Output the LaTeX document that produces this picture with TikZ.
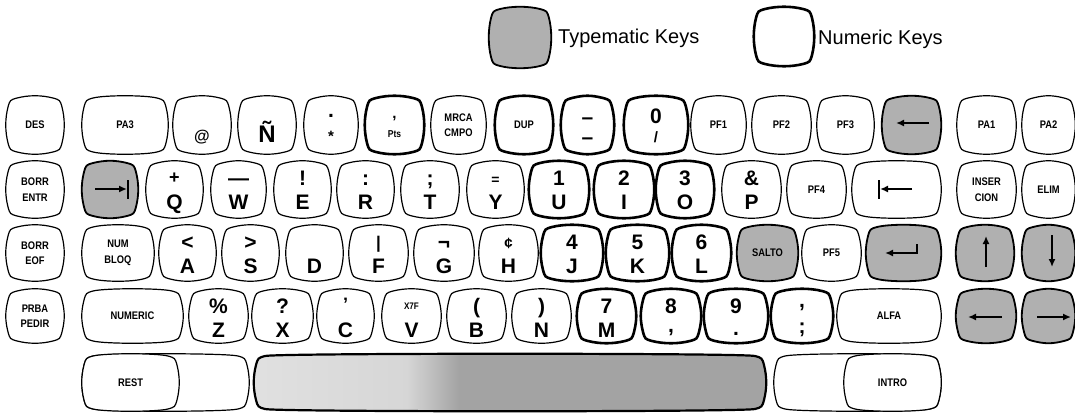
\documentclass[tikz,border=0pt]{standalone}
\usepackage{fontspec}
\setmainfont{Liberation Sans}
\newfontfamily\kfont{Liberation Sans}[FakeStretch=0.85]
\usetikzlibrary{arrows.meta}
\pgfdeclarehorizontalshading{spacebar}{100bp}{color(0bp)=(black!12); color(25bp)=(black!12); color(40bp)=(black!16); color(45bp)=(black!36); color(75bp)=(black!36); color(100bp)=(black!36)}
% key outline: name, x1, y1, x2, y2, style  (slightly bulging sides, smooth corners)
\newcommand\kb[6]{%
  \path[#6] (#2+10,#3+1)
     .. controls (#2+22,#3-2) and (#4-22,#3-2) .. (#4-10,#3+1)
     .. controls (#4-3,#3+3) .. (#4-1,#3+10)
     .. controls (#4+2,#3+22) and (#4+2,#5-22) .. (#4-1,#5-10)
     .. controls (#4-3,#5-3) .. (#4-10,#5-1)
     .. controls (#4-22,#5+2) and (#2+22,#5+2) .. (#2+10,#5-1)
     .. controls (#2+3,#5-3) .. (#2+1,#5-10)
     .. controls (#2-2,#5-22) and (#2-2,#3+22) .. (#2+1,#3+10)
     .. controls (#2+3,#3+3) .. cycle;
  \node[kn, minimum width={#4-#2}, minimum height={#5-#3}] (#1) at ({(#2+#4)/2},{(#3+#5)/2}) {};}
\newcommand\two[3]{%
  \node[lg] (#1-u) at ([yshift=-23pt]#1.north) {#2};
  \node[lg] (#1-l) at ([yshift=-47pt]#1.north) {#3};}
\newcommand\lab[2]{\node[sm] (#1-t) at (#1) {#2};}
\tikzset{
  kn/.style={rectangle, inner sep=0, outer sep=0, draw=none},
  kthin/.style={draw, line width=1.2pt, fill=white},
  knum/.style={draw, line width=2.6pt, fill=white},
  ktyp/.style={draw, line width=1.8pt, fill=black!31},
  sm/.style={font=\kfont\bfseries\fontsize{11}{15.5}\selectfont, inner sep=0, align=center},
  tiny/.style={font=\kfont\bfseries\fontsize{9.5}{10}\selectfont, inner sep=0},
  lg/.style={font=\bfseries\fontsize{21}{21}\selectfont, inner sep=0, anchor=base},
  mdf/.style={font=\bfseries\fontsize{15}{15}\selectfont, inner sep=0, anchor=base},
  legend/.style={font=\fontsize{20}{20}\selectfont, inner sep=0, anchor=base west},
  sym/.style={line width=2pt},
  arr/.style={line width=2pt, -{Latex[length=8pt,width=7pt]}}
}
\begin{document}
\begin{tikzpicture}[x=1pt,y=-1pt]
\useasboundingbox (0,0) rectangle (1075,412);
% legend
\kb{ltyp}{490}{8}{550}{67}{ktyp}
\node[legend] (ltyp-t) at (558,44) {Typematic Keys};
\kb{lnum}{755}{8}{813}{65}{knum}
\node[legend] (lnum-t) at (818,45) {Numeric Keys};
% row 1
\kb{kdes}{7}{97}{63}{153}{kthin}\lab{kdes}{DES}
\kb{kpa3}{83}{97}{167}{153}{kthin}\lab{kpa3}{PA3}
\kb{kat}{174}{97}{230}{153}{kthin}
\node[mdf,font=\bfseries\fontsize{16}{16}\selectfont] (kat-t) at ([yshift=-44pt]kat.north) {@};
\kb{kenye}{239}{97}{295}{153}{kthin}
\node[lg,font=\bfseries\fontsize{24}{24}\selectfont] (kenye-t) at ([yshift=-45pt]kenye.north) {Ñ};
\kb{kast}{305}{97}{357}{153}{kthin}
\node[lg] (kast-u) at ([yshift=-20pt]kast.north) {.};
\node[mdf] (kast-l) at ([yshift=-44pt]kast.north) {*};
\kb{kpts}{366}{97}{423}{153}{knum}
\node[mdf] (kpts-u) at ([yshift=-21pt]kpts.north) {,};
\node[tiny,font=\kfont\bfseries\fontsize{10}{10}\selectfont] (kpts-l) at ([yshift=-37pt]kpts.north) {Pts};
\kb{kmrca}{432}{97}{485}{153}{kthin}\lab{kmrca}{MRCA\\CMPO}
\kb{kdup}{496}{97}{552}{153}{knum}\lab{kdup}{DUP}
\kb{kminus}{562}{97}{613}{153}{knum}
\node[lg] (kminus-u) at ([yshift=-27pt]kminus.north) {–};
\node[lg] (kminus-l) at ([yshift=-47pt]kminus.north) {–};
\kb{kzero}{625}{97}{687}{153}{knum}
\node[lg] (kzero-u) at ([yshift=-26pt]kzero.north) {0};
\node[mdf] (kzero-l) at ([yshift=-45pt]kzero.north) {/};
\kb{kpfa}{692}{97}{745}{153}{kthin}\lab{kpfa}{PF1}
\kb{kpfb}{753}{97}{810}{153}{kthin}\lab{kpfb}{PF2}
\kb{kpfc}{818}{97}{873}{153}{kthin}\lab{kpfc}{PF3}
\kb{kbs}{883}{97}{940}{153}{ktyp}
\coordinate (bs-a) at (929,123); \coordinate (bs-b) at (896,123);
\draw[arr] (bs-a) -- (bs-b);
\kb{kpaa}{958}{97}{1015}{153}{kthin}\lab{kpaa}{PA1}
\kb{kpab}{1023}{97}{1074}{153}{kthin}\lab{kpab}{PA2}
% row 2
\kb{kbe}{7}{162}{63}{217}{kthin}\lab{kbe}{BORR\\ENTR}
\kb{ktab}{83}{162}{137}{217}{ktyp}
\coordinate (tab-a) at (95,189); \coordinate (tab-b) at (127,189);
\coordinate (tab-c) at (128,180); \coordinate (tab-d) at (128,199);
\draw[arr] (tab-a) -- (tab-b);
\draw[sym] (tab-c) -- (tab-d);
\kb{kq}{147}{162}{202}{217}{kthin}
\node[lg,font=\bfseries\fontsize{18}{18}\selectfont] (kq-u) at ([yshift=-21pt]kq.north) {+};
\node[lg] (kq-l) at ([yshift=-47pt]kq.north) {Q};
\kb{kw}{212}{162}{265}{217}{kthin}\two{kw}{—}{W}
\kb{ke}{275}{162}{330}{217}{kthin}\two{ke}{!}{E}
\kb{kr}{338}{162}{393}{217}{kthin}\two{kr}{:}{R}
\kb{kt}{402}{162}{458}{217}{kthin}\two{kt}{;}{T}
\kb{ky}{468}{162}{523}{217}{kthin}
\node[lg,font=\bfseries\fontsize{14}{14}\selectfont] (ky-u) at ([yshift=-22pt]ky.north) {=};
\node[lg] (ky-l) at ([yshift=-47pt]ky.north) {Y};
\kb{ku}{530}{162}{588}{217}{knum}\two{ku}{1}{U}
\kb{ki}{595}{162}{653}{217}{knum}\two{ki}{2}{I}
\kb{ko}{657}{162}{713}{217}{knum}\two{ko}{3}{O}
\kb{kp}{723}{162}{780}{217}{kthin}\two{kp}{\&}{P}
\kb{kpfd}{788}{162}{845}{217}{kthin}\lab{kpfd}{PF4}
\kb{kbt}{853}{162}{940}{217}{kthin}
\coordinate (bt-a) at (912,189); \coordinate (bt-b) at (880,189);
\coordinate (bt-c) at (879,180); \coordinate (bt-d) at (879,199);
\draw[arr] (bt-a) -- (bt-b);
\draw[sym] (bt-c) -- (bt-d);
\kb{kins}{958}{162}{1015}{217}{kthin}\lab{kins}{INSER\\CION}
\kb{kelim}{1023}{162}{1074}{217}{kthin}\lab{kelim}{ELIM}
% row 3
\kb{kbf}{7}{226}{63}{280}{kthin}\lab{kbf}{BORR\\EOF}
\kb{knb}{83}{226}{153}{280}{kthin}\lab{knb}{NUM\\BLOQ}
\kb{ka}{160}{226}{215}{280}{kthin}\two{ka}{<}{A}
\kb{ks}{223}{226}{278}{280}{kthin}\two{ks}{>}{S}
\kb{kd}{287}{226}{342}{280}{kthin}
\node[lg] (kd-l) at ([yshift=-47pt]kd.north) {D};
\kb{kf}{350}{226}{407}{280}{kthin}
\node[lg,font=\bfseries\fontsize{17}{17}\selectfont] (kf-u) at ([yshift=-22pt]kf.north) {|};
\node[lg] (kf-l) at ([yshift=-47pt]kf.north) {F};
\kb{kg}{415}{226}{473}{280}{kthin}\two{kg}{¬}{G}
\kb{kh}{480}{226}{537}{280}{kthin}
\node[lg,font=\bfseries\fontsize{15}{15}\selectfont] (kh-u) at ([yshift=-22pt]kh.north) {¢};
\node[lg] (kh-l) at ([yshift=-47pt]kh.north) {H};
\kb{kj}{542}{226}{602}{280}{knum}\two{kj}{4}{J}
\kb{kk}{607}{226}{668}{280}{knum}\two{kk}{5}{K}
\kb{kl}{673}{226}{730}{280}{knum}\two{kl}{6}{L}
\kb{ksalto}{738}{226}{797}{280}{ktyp}\lab{ksalto}{SALTO}
\kb{kpfe}{803}{226}{860}{280}{kthin}\lab{kpfe}{PF5}
\kb{kent}{867}{226}{940}{280}{ktyp}
\coordinate (ent-a) at (917,244); \coordinate (ent-b) at (917,253); \coordinate (ent-c) at (885,253);
\draw[arr] (ent-a) -- (ent-b) -- (ent-c);
\kb{kup}{957}{226}{1013}{280}{ktyp}
\coordinate (up-a) at (986,267); \coordinate (up-b) at (986,236);
\draw[arr] (up-a) -- (up-b);
\kb{kdown}{1023}{226}{1074}{280}{ktyp}
\coordinate (dn-a) at (1052,235); \coordinate (dn-b) at (1052,267);
\draw[arr] (dn-a) -- (dn-b);
% row 4
\kb{kprba}{7}{290}{63}{342}{kthin}\lab{kprba}{PRBA\\PEDIR}
\kb{knumeric}{83}{290}{182}{342}{kthin}\lab{knumeric}{NUMERIC}
\kb{kz}{190}{290}{247}{342}{kthin}\two{kz}{\%}{Z}
\kb{kx}{253}{290}{312}{342}{kthin}\two{kx}{?}{X}
\kb{kc}{318}{290}{373}{342}{kthin}
\node[mdf,font=\bfseries\fontsize{18}{18}\selectfont] (kc-u) at ([yshift=-20pt]kc.north) {'};
\node[lg] (kc-l) at ([yshift=-47pt]kc.north) {C};
\kb{kv}{383}{290}{440}{342}{kthin}
\node[tiny] (kv-u) at ([yshift=-16pt]kv.north) {X7F};
\node[lg] (kv-l) at ([yshift=-47pt]kv.north) {V};
\kb{kb}{448}{290}{505}{342}{kthin}\two{kb}{(}{B}
\kb{kn}{513}{290}{570}{342}{kthin}\two{kn}{)}{N}
\kb{km}{578}{290}{635}{342}{knum}\two{km}{7}{M}
\kb{keight}{642}{290}{700}{342}{knum}
\node[lg] (keight-u) at ([yshift=-23pt]keight.north) {8};
\node[lg] (keight-l) at ([yshift=-42pt]keight.north) {,};
\kb{knine}{705}{290}{767}{342}{knum}
\node[lg] (knine-u) at ([yshift=-23pt]knine.north) {9};
\node[lg] (knine-l) at ([yshift=-45pt]knine.north) {.};
\kb{ksemi}{772}{290}{832}{342}{knum}
\node[lg] (ksemi-u) at ([yshift=-17pt]ksemi.north) {,};
\node[lg] (ksemi-l) at ([yshift=-43pt]ksemi.north) {;};
\kb{kalfa}{838}{290}{940}{342}{kthin}\lab{kalfa}{ALFA}
\kb{kleft}{957}{290}{1015}{342}{ktyp}
\coordinate (lf-a) at (1002,317); \coordinate (lf-b) at (968,317);
\draw[arr] (lf-a) -- (lf-b);
\kb{kright}{1023}{290}{1074}{342}{ktyp}
\coordinate (rt-a) at (1037,317); \coordinate (rt-b) at (1071,317);
\draw[arr] (rt-a) -- (rt-b);
% row 5
\kb{krestb}{83}{355}{248}{410}{kthin}
\kb{krest}{83}{355}{178}{410}{kthin}\lab{krest}{REST}
\kb{kspace}{255}{355}{765}{410}{draw, line width=2.2pt, shade, shading=spacebar}
\kb{kintrob}{775}{355}{940}{410}{kthin}
\kb{kintro}{845}{355}{940}{410}{kthin}\lab{kintro}{INTRO}
\end{tikzpicture}
\end{document}
